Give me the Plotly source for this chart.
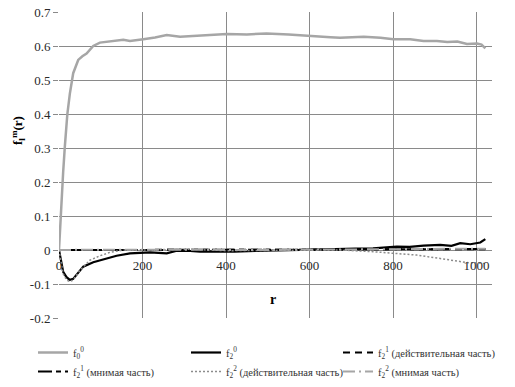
import plotly.graph_objects as go

# ---- data ----
r_f00 = [0, 3, 6, 10, 14, 20, 26, 34, 46, 56, 66, 82, 98, 122, 138, 154, 170, 186, 202,
         230, 258, 290, 338, 402, 450, 497, 550, 601, 650, 673, 730, 770, 801, 841, 873,
         905, 930, 954, 977, 1001, 1012, 1021]
f00 = [0.0, 0.08, 0.16, 0.23, 0.305, 0.40, 0.46, 0.52, 0.559, 0.570, 0.578, 0.600, 0.610,
       0.613, 0.614, 0.618, 0.615, 0.617, 0.620, 0.625, 0.632, 0.627, 0.630, 0.635, 0.634,
       0.637, 0.634, 0.631, 0.626, 0.624, 0.627, 0.624, 0.620, 0.620, 0.615, 0.615, 0.612,
       0.613, 0.606, 0.607, 0.604, 0.593]

r_f20 = [0, 2, 5, 10, 18, 26, 34, 42, 58, 82, 114, 138, 170, 218, 258, 282, 314, 338, 370,
         420, 470, 520, 560, 600, 640, 674, 710, 752, 780, 809, 840, 873, 913, 940, 961, 985,
         1009, 1021]
f20 = [0.0, -0.015, -0.04, -0.064, -0.08, -0.088, -0.085, -0.074, -0.049, -0.036, -0.026,
       -0.017, -0.010, -0.007, -0.010, -0.002, -0.003, -0.005, -0.004, -0.005, -0.003,
       -0.002, -0.001, 0.0, 0.002, 0.002, 0.004, 0.005, 0.007, 0.010, 0.009, 0.013, 0.015,
       0.012, 0.020, 0.017, 0.022, 0.032]

r_flat = [0, 50, 100, 200, 300, 400, 500, 600, 700, 800, 900, 1000, 1021]
f21_re = [0.0, 0.0, -0.001, 0.0, 0.0, 0.001, 0.001, 0.001, 0.002, 0.002, 0.002, 0.002, 0.002]
f21_im = [0.0, 0.0, 0.0, -0.001, 0.0, 0.0, 0.001, 0.001, 0.001, 0.002, 0.003, 0.003, 0.003]
f22_im = [0.0, 0.001, 0.001, 0.001, 0.0, 0.0, 0.0, 0.001, 0.002, 0.003, 0.004, 0.004, 0.004]

r_f22 = [0, 4, 10, 18, 26, 34, 50, 74, 98, 122, 154, 218, 290, 314, 400, 500, 600, 674,
         752, 809, 857, 913, 954, 977, 1000, 1021]
f22_re = [0.0, -0.03, -0.07, -0.088, -0.093, -0.088, -0.06, -0.030, -0.017, -0.007, 0.0,
          0.0, 0.003, 0.002, -0.002, -0.002, 0.0, 0.0, -0.005, -0.010, -0.015, -0.025,
          -0.032, -0.037, -0.038, -0.040]

x_ticks = [0, 200, 400, 600, 800, 1000]
y_ticks = [-0.2, -0.1, 0, 0.1, 0.2, 0.3, 0.4, 0.5, 0.6, 0.7]
y_tick_text = ["-0.2", "-0.1", "0", "0.1", "0.2", "0.3", "0.4", "0.5", "0.6", "0.7"]

SERIF = "Liberation Serif"

fig = go.Figure()
fig.add_trace(go.Scatter(x=r_f00, y=f00, mode="lines", name="f<sub>0</sub><sup>0</sup>",
                         line=dict(color="#A6A6A6", width=2.5), legend="legend"))
fig.add_trace(go.Scatter(x=r_f20, y=f20, mode="lines", name="f<sub>2</sub><sup>0</sup>",
                         line=dict(color="#000000", width=2.2), legend="legend2"))
fig.add_trace(go.Scatter(x=r_flat, y=f21_re, mode="lines",
                         name="f<sub>2</sub><sup>1</sup> (действительная часть)",
                         line=dict(color="#000000", width=2, dash="7px,5px"), legend="legend3"))
fig.add_trace(go.Scatter(x=r_flat, y=f21_im, mode="lines",
                         name="f<sub>2</sub><sup>1</sup> (мнимая часть)",
                         line=dict(color="#000000", width=2, dash="14px,4px,5px,4px"),
                         legend="legend"))
fig.add_trace(go.Scatter(x=r_f22, y=f22_re, mode="lines",
                         name="f<sub>2</sub><sup>2</sup> (действительная часть)",
                         line=dict(color="#8C8C8C", width=1.5, dash="2px,2px"),
                         legend="legend2"))
fig.add_trace(go.Scatter(x=r_flat, y=f22_im, mode="lines",
                         name="f<sub>2</sub><sup>2</sup> (мнимая часть)",
                         line=dict(color="#A6A6A6", width=2, dash="12px,4px,2px,4px"),
                         legend="legend3"))

W, H = 507, 379  # page body has an 8px margin in the 515x387 window


def leg(xpx):
    return dict(orientation="v", xref="container", yref="container",
                xanchor="left", yanchor="top", x=xpx / W, y=1 - 330 / H,
                font=dict(family=SERIF, size=10.5, color="#333333"),
                itemwidth=30, tracegroupgap=0,
                bgcolor="rgba(0,0,0,0)", borderwidth=0, traceorder="normal")


fig.update_layout(
    width=W, height=H,
    margin=dict(l=51, r=23, t=4, b=69, autoexpand=False),
    paper_bgcolor="white", plot_bgcolor="white",
    font=dict(family=SERIF, size=13, color="#2a2a2a"),
    showlegend=True,
    legend=leg(25),
    legend2=leg(178),
    legend3=leg(330),
    xaxis=dict(range=[0, 1037], tickvals=x_ticks, showgrid=True, gridcolor="#8A8A8A",
               gridwidth=1, zeroline=False, showline=False, anchor="free",
               position=0.2222, ticks="", ticklabelstandoff=6,
               tickfont=dict(family=SERIF, size=13, color="#2a2a2a")),
    yaxis=dict(range=[-0.2, 0.7], tickvals=y_ticks, ticktext=y_tick_text, showgrid=True,
               gridcolor="#8A8A8A", gridwidth=1, zeroline=False, showline=False,
               ticks="outside", ticklen=5, tickcolor="#8A8A8A",
               ticklabeloverflow="allow",
               tickfont=dict(family=SERIF, size=13, color="#2a2a2a")),
    annotations=[
        dict(text="<b>f<sub>l</sub><sup>m</sup>(r)</b>", xref="paper", yref="paper",
             x=-0.095, y=0.614, xanchor="center", yanchor="middle", textangle=-90,
             showarrow=False, font=dict(family=SERIF, size=13, color="#000000")),
        dict(text="<b>r</b>", xref="paper", yref="paper", x=0.494, y=0.059,
             xanchor="center", yanchor="middle",
             showarrow=False, font=dict(family=SERIF, size=14, color="#000000")),
    ],
)

fig.write_html("out.html")
